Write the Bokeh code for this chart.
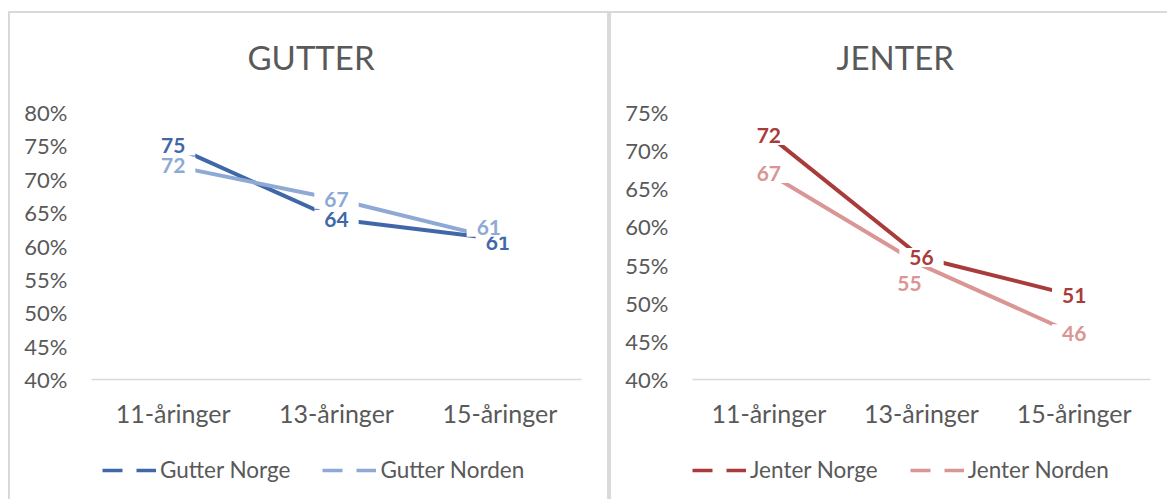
from bokeh.plotting import figure
from bokeh.layouts import row, column
from bokeh.models import (Range1d, FixedTicker, PrintfTickFormatter, FactorRange,
                          Legend, LegendItem, Title)
from bokeh.core.properties import value
from bokeh.embed import file_html
from bokeh.resources import INLINE

# ---- data ----
categories = ["11-åringer", "13-åringer", "15-åringer"]
gutter_norge = [75, 64, 61]
gutter_norden = [72, 67, 61]
jenter_norge = [72, 56, 51]
jenter_norden = [67, 55, 46]
gutter_ticks = [40, 45, 50, 55, 60, 65, 70, 75, 80]
jenter_ticks = [40, 45, 50, 55, 60, 65, 70, 75]

FONT = "Lato"
GREY = "#d9d9d9"
TXT = "#595959"
BORDER = "2px solid #d9d9d9"
NAN = float("nan")


def make_panel(title, width, mb_right, ticks, series, names, colors,
               offsets, title_offset, legend_x, main_border, leg_border, margin):
    p = figure(x_range=FactorRange(*categories),
               y_range=Range1d(ticks[0], ticks[-1]),
               width=width, height=440, output_backend="svg",
               toolbar_location=None, title=title,
               min_border_left=81, min_border_right=mb_right,
               min_border_top=99, min_border_bottom=74,
               styles=main_border)
    p.outline_line_color = None
    p.background_fill_color = "white"
    p.border_fill_color = "white"
    p.xgrid.grid_line_color = None
    p.ygrid.grid_line_color = None

    p.title.align = "left"
    p.title.vertical_align = "top"
    p.title.offset = title_offset
    p.title.text_font = FONT
    p.title.text_font_size = "33px"
    p.title.text_font_style = "normal"
    p.title.text_color = TXT
    p.title.standoff = 42
    # small spacer between title and plot area
    p.add_layout(Title(text=" ", text_font_size="10px", standoff=0), "above")

    p.yaxis.ticker = FixedTicker(ticks=ticks)
    p.yaxis.formatter = PrintfTickFormatter(format="%d%%")
    p.yaxis.axis_line_color = None
    p.yaxis.major_tick_line_color = None
    p.yaxis.minor_tick_line_color = None
    p.yaxis.major_label_standoff = 18
    p.yaxis.major_label_text_font = FONT
    p.yaxis.major_label_text_font_size = "22px"
    p.yaxis.major_label_text_color = TXT

    p.xaxis.axis_line_color = GREY
    p.xaxis.axis_line_width = 1.5
    p.xaxis.major_tick_line_color = None
    p.xaxis.minor_tick_line_color = None
    p.xaxis.major_label_standoff = 12
    p.xaxis.major_label_text_font = FONT
    p.xaxis.major_label_text_font_size = "25px"
    p.xaxis.major_label_text_color = TXT

    for vals, col in zip(series, colors):
        p.line(x=categories, y=vals, line_color=col, line_width=4)

    for vals, col, offs in zip(series, colors, offsets):
        r = p.text(x=categories, y=vals, text=[str(v) for v in vals],
                   x_offset=[o[0] for o in offs], y_offset=[o[1] for o in offs],
                   text_align="center", text_baseline="middle",
                   text_font=value(FONT), text_font_style="bold",
                   text_font_size="21px", text_color=col,
                   background_fill_color="white")
        try:
            r.glyph.padding = dict(left=10, right=10, top=2, bottom=2)
        except Exception:
            r.glyph.padding = 8

    # legend strip (separate small figure under the chart)
    lf = figure(width=width, height=48, output_backend="svg",
                toolbar_location=None, x_range=Range1d(0, 1),
                y_range=Range1d(0, 1), x_axis_location=None,
                y_axis_location=None, min_border=0, styles=leg_border)
    lf.outline_line_color = None
    lf.xgrid.grid_line_color = None
    lf.ygrid.grid_line_color = None
    lf.background_fill_color = "white"
    lf.border_fill_color = "white"
    items = []
    for name, col in zip(names, colors):
        dummy = lf.line(x=[NAN], y=[NAN], line_color=col, line_width=3.5,
                        line_dash="20 14")
        items.append(LegendItem(label=name, renderers=[dummy]))
    leg = Legend(items=items, orientation="horizontal",
                 location=(legend_x, 16))
    leg.glyph_width = 54
    leg.label_standoff = 4
    leg.spacing = 32
    leg.padding = 0
    leg.margin = 0
    leg.border_line_color = None
    leg.background_fill_alpha = 0
    leg.label_text_font = FONT
    leg.label_text_font_size = "22.5px"
    leg.label_text_color = TXT
    lf.add_layout(leg, "center")
    return column(p, lf, margin=margin, spacing=0)


left = make_panel("GUTTER", 601, 30, gutter_ticks,
                  [gutter_norge, gutter_norden],
                  ["Gutter Norge", "Gutter Norden"],
                  ["#4068A8", "#8EA9D3"],
                  [[(0, 0), (0, 0), (-2, 3)], [(0, 0), (0, 0), (-11, -12)]],
                  156, 11,
                  {"border-top": BORDER, "border-left": BORDER,
                   "border-right": BORDER, "box-sizing": "border-box"},
                  {"border-left": BORDER, "border-right": BORDER,
                   "box-sizing": "border-box"},
                  (11, 0, 0, 8))
right = make_panel("JENTER", 558, 19, jenter_ticks,
                   [jenter_norge, jenter_norden],
                   ["Jenter Norge", "Jenter Norden"],
                   ["#A93B3B", "#D99694"],
                   [[(0, 0), (0, 0), (0, 0)], [(0, 0), (-12, 18), (0, 0)]],
                   144, 0,
                   {"border-top": BORDER, "border-left": BORDER,
                    "box-sizing": "border-box"},
                   {"border-left": BORDER, "box-sizing": "border-box"},
                   (11, 0, 0, 0))

layout = row(left, right)
open("out.html", "w").write(file_html(layout, INLINE))
